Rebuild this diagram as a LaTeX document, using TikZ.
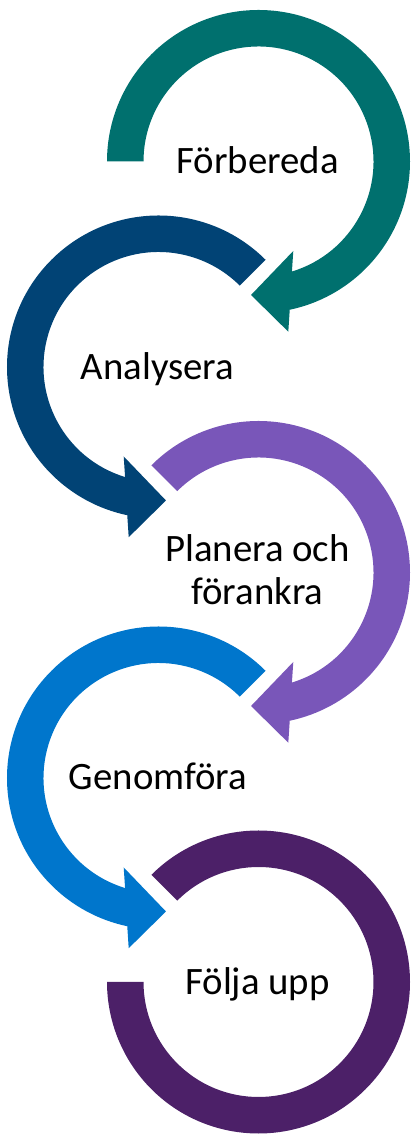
\documentclass[tikz,border=0pt]{standalone}
\usepackage{fontspec}
\setmainfont{Carlito}
\definecolor{cteal}{RGB}{0,112,110}
\definecolor{cnavy}{RGB}{1,67,117}
\definecolor{clav}{RGB}{121,86,185}
\definecolor{cblue}{RGB}{0,118,204}
\definecolor{cplum}{RGB}{76,32,104}
\tikzset{
  steplabel/.style={font=\fontsize{38.8}{43.3}\selectfont, text=black, inner sep=0pt, align=center},
}
% clockwise arrow (right column), start angle #1
\newcommand{\cwarrow}[1]{%
  (#1:151.5pt) arc[start angle=#1, end angle=-78.1, radius=151.5pt]
  -- (-80.07:172.8pt) -- (-93.2:133.7pt) -- (-68.75:96pt) -- (-73.1:115pt)
  arc[start angle=-73.1, end angle=#1, radius=115pt] -- cycle}
% counter-clockwise arrow (left column), start angle #1
\newcommand{\ccwarrow}[1]{%
  (#1:151.5pt) arc[start angle=#1, end angle=258.1, radius=151.5pt]
  -- (260.07:172.8pt) -- (273.2:133.7pt) -- (248.75:96pt) -- (253.1:115pt)
  arc[start angle=253.1, end angle=#1, radius=115pt] -- cycle}
\begin{document}
\begin{tikzpicture}[x=1pt,y=1pt]
\useasboundingbox (0,0) rectangle (411,1135);
% circle 1
\begin{scope}[shift={(258.5,973.5)}]
  \fill[cteal] \cwarrow{180};
\end{scope}
% circle 2
\begin{scope}[shift={(158.5,768)}]
  \fill[cnavy] \ccwarrow{45};
\end{scope}
% circle 3
\begin{scope}[shift={(258.5,562.5)}]
  \fill[clav] \cwarrow{135};
\end{scope}
% circle 4
\begin{scope}[shift={(158.5,357)}]
  \fill[cblue] \ccwarrow{45};
\end{scope}
% circle 5
\begin{scope}[shift={(258.5,153)}]
  \fill[cplum] (135:151.5pt) arc[start angle=135, end angle=-180, radius=151.5pt]
    -- (180:115pt) arc[start angle=-180, end angle=135, radius=115pt] -- cycle;
\end{scope}
\node[steplabel, anchor=base] (t1) at (257.5,961.7) {Förbereda};
\node[steplabel, anchor=base] (t2) at (157.5,755) {Analysera};
\node[steplabel, anchor=base] (t3) at (257.5,530) {Planera och\\förankra};
\node[steplabel, anchor=base] (t4) at (158,345) {Genomföra};
\node[steplabel, anchor=base] (t5) at (257.5,140) {Följa upp};
\end{tikzpicture}
\end{document}
